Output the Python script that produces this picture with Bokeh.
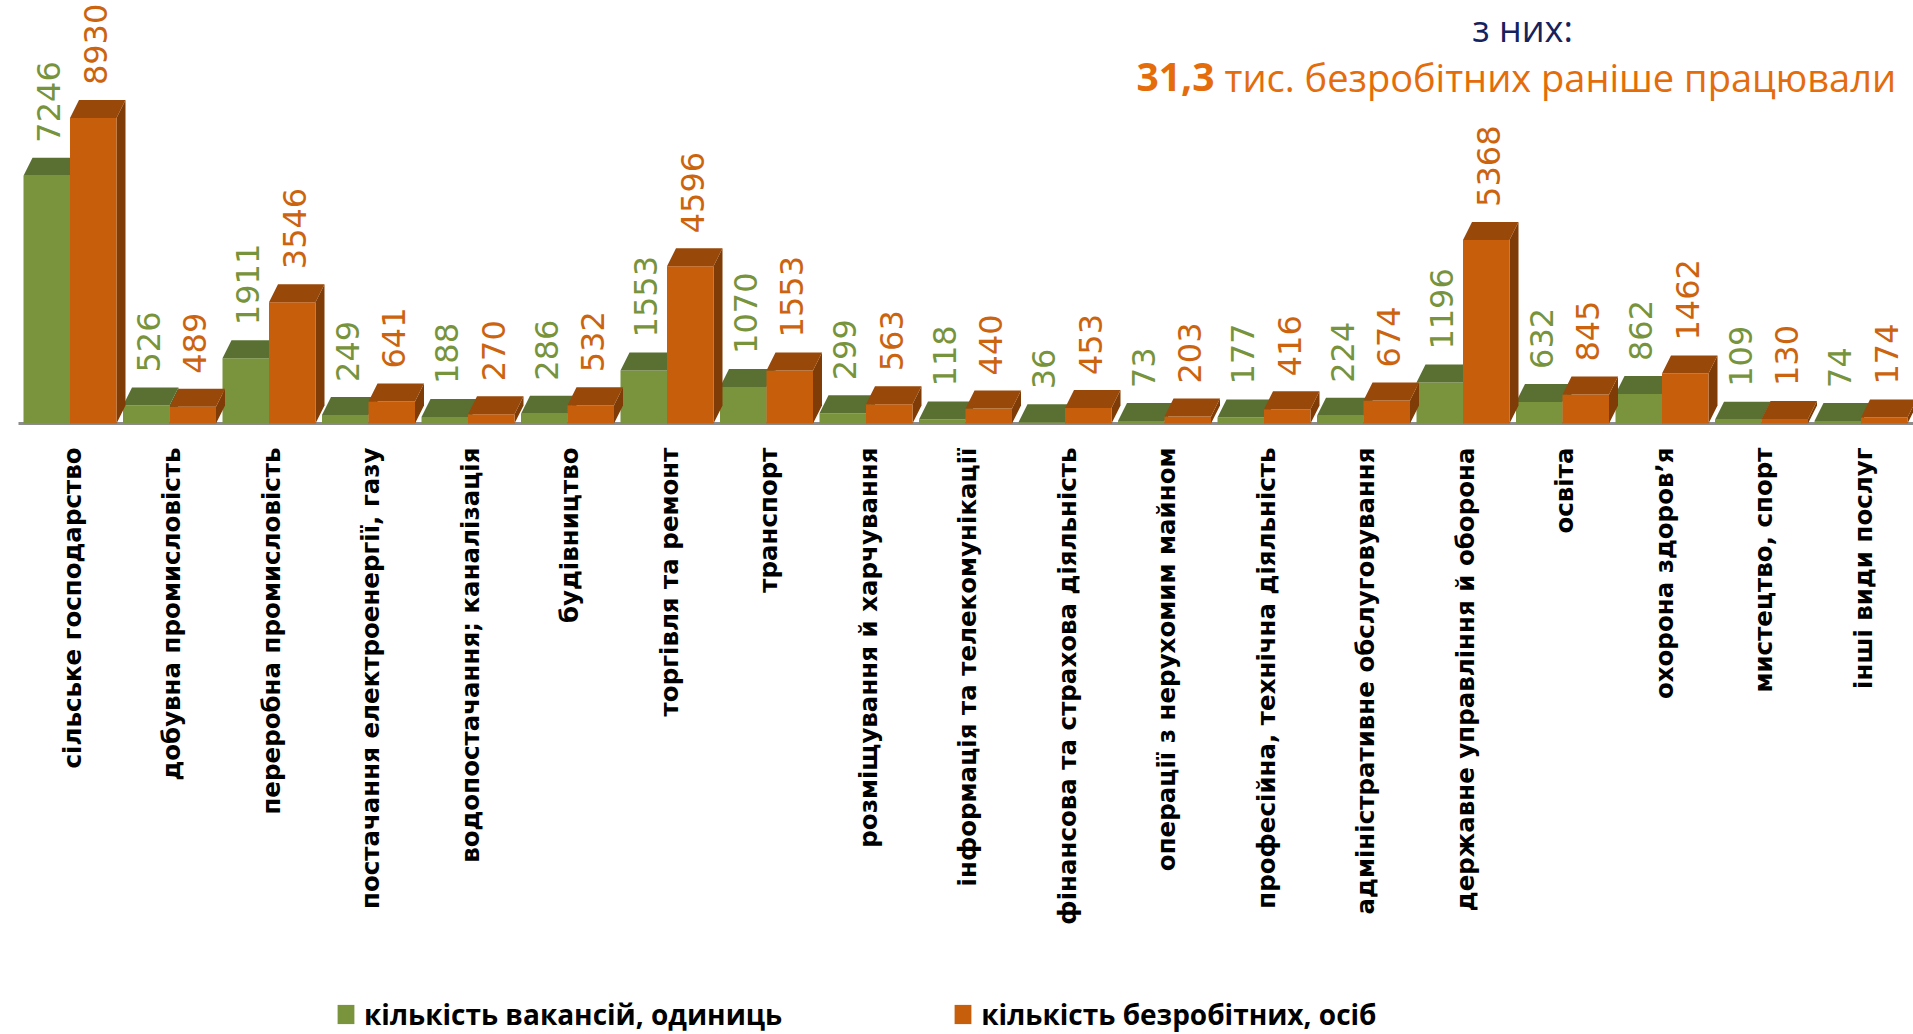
import numpy as np
from bokeh.plotting import figure
from bokeh.models import Range1d, Legend, LegendItem
from bokeh.core.properties import value
from bokeh.embed import file_html
from bokeh.resources import INLINE

# ---------------- data ----------------
categories = [
    "сільське господарство",
    "добувна промисловість",
    "переробна промисловість",
    "постачання електроенергії, газу",
    "водопостачання; каналізація",
    "будівництво",
    "торгівля та ремонт",
    "транспорт",
    "розміщування й харчування",
    "інформація та телекомунікації",
    "фінансова та страхова діяльність",
    "операції з нерухомим майном",
    "професійна, технічна діяльність",
    "адміністративне обслуговування",
    "державне управління й оборона",
    "освіта",
    "охорона здоров\u02bcя",
    "мистецтво, спорт",
    "інші види послуг",
]
vacancies = [7246, 526, 1911, 249, 188, 286, 1553, 1070, 299, 118, 36, 73, 177, 224, 1196, 632, 862, 109, 74]
unemployed = [8930, 489, 3546, 641, 270, 532, 4596, 1553, 563, 440, 453, 203, 416, 674, 5368, 845, 1462, 130, 174]
series_names = ["кількість вакансій, одиниць", "кількість безробітних, осіб"]
title_line1 = "з них:"
title_bold = "31,3"
title_rest = "тис. безробітних раніше працювали"

# ---------------- layout ----------------
W, H = 1913, 1034
PX_X = 99.5      # pixels per category
PX_Y = 0.0342    # pixels per unit of value
X0_PX = 69.5     # px of first category centre
BASE_PX = 423    # px (from top) of the baseline

x_start = -X0_PX / PX_X
x_end = x_start + W / PX_X
y_end = BASE_PX / PX_Y
y_start = -(H - BASE_PX) / PX_Y


def fx(X):
    return x_start + X / PX_X


def fy(Y):
    return y_end - Y / PX_Y


p = figure(width=W, height=H, x_range=Range1d(x_start, x_end), y_range=Range1d(y_start, y_end),
           output_backend="svg", toolbar_location=None, min_border=0,
           x_axis_location=None, y_axis_location=None)
p.grid.visible = False
p.outline_line_color = None
p.background_fill_color = "white"

n = len(categories)
idx = np.arange(n, dtype=float)
vac = np.array(vacancies, dtype=float)
une = np.array(unemployed, dtype=float)

bw = 46.5 / PX_X
dx = 9.0 / PX_X
dy = 18.0 / PX_Y

G_FRONT, G_TOP, G_SIDE = "#7A943E", "#5A7032", "#4A5E26"
O_FRONT, O_TOP, O_SIDE = "#C65E0C", "#984808", "#803C06"

# floor line
p.segment(x0=[fx(18)], y0=[0], x1=[x_end], y1=[0], line_color="#8C8C8C", line_width=3)


def bar3d(left, right, vals, front, top, side):
    xs_side = [[r, r + dx, r + dx, r] for r in right]
    ys_side = [[0, dy, v + dy, v] for v in vals]
    p.patches(xs_side, ys_side, fill_color=side, line_color=None)
    fr = p.quad(left=left, right=right, bottom=0, top=vals, fill_color=front, line_color=None)
    xs_top = [[l, r, r + dx, l + dx] for l, r in zip(left, right)]
    ys_top = [[v, v, v + dy, v + dy] for v in vals]
    p.patches(xs_top, ys_top, fill_color=top, line_color=None)
    return fr


g_front = bar3d(idx - bw, idx, vac, G_FRONT, G_TOP, G_SIDE)
o_front = bar3d(idx, idx + bw, une, O_FRONT, O_TOP, O_SIDE)

# value labels
lab_font = value("DejaVu Sans")
p.text(x=idx - bw / 2 + 2 / PX_X, y=vac, text=[str(v) for v in vacancies], angle=np.pi / 2,
       text_align="left", text_baseline="middle", y_offset=-33,
       text_font=lab_font, text_font_size="32px", text_color="#77933C")
p.text(x=idx + bw / 2 + 2 / PX_X, y=une, text=[str(v) for v in unemployed], angle=np.pi / 2,
       text_align="left", text_baseline="middle", y_offset=-33,
       text_font=lab_font, text_font_size="32px", text_color="#CC640F")

# category labels
p.text(x=idx + 2 / PX_X, y=np.zeros(n), text=categories, angle=np.pi / 2,
       text_align="right", text_baseline="middle", y_offset=24,
       text_font=value("DejaVu Sans"), text_font_style="bold", text_font_size="24.5px", text_color="black")

# title
p.text(x=[fx(1522)], y=[fy(28)], text=[title_line1], text_align="center", text_baseline="alphabetic",
       text_font=value("Open Sans"), text_font_size="36px", text_color="#14225E")
p.text(x=[fx(1136)], y=[fy(76)], text=[title_bold], text_align="left", text_baseline="alphabetic",
       text_font=value("Open Sans"), text_font_style="bold", text_font_size="39px",
       text_color="#E46C0A")
p.text(x=[fx(1224)], y=[fy(76)], text=[title_rest], text_align="left", text_baseline="alphabetic",
       text_font=value("Open Sans"), text_font_size="38px", text_color="#E46C0A")

legend = Legend(items=[LegendItem(label=series_names[0], renderers=[g_front]),
                       LegendItem(label=series_names[1], renderers=[o_front])],
                orientation="horizontal", location=(335, 1), spacing=170,
                glyph_width=21, glyph_height=24, label_standoff=8,
                label_text_font="Open Sans", label_text_font_style="bold", label_text_font_size="28px",
                label_text_color="black", padding=0, margin=0, border_line_color=None,
                background_fill_alpha=0)
p.add_layout(legend)

open("out.html", "w").write(file_html(p, INLINE))
